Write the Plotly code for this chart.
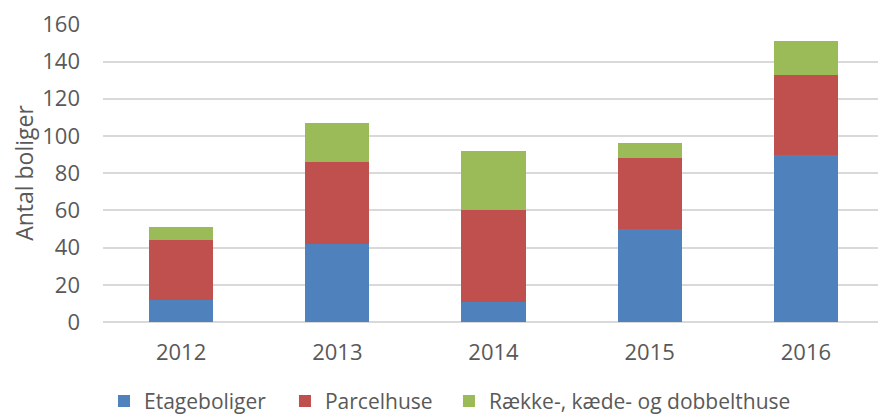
import plotly.graph_objects as go

years = ["2012", "2013", "2014", "2015", "2016"]
etage = [12, 42, 11, 50, 90]
parcel = [32, 44, 49, 38, 43]
raekke = [7, 21, 32, 8, 18]

names = ["Etageboliger", "Parcelhuse", "Række-, kæde- og dobbelthuse"]
colors = ["#4F81BD", "#C0504D", "#9BBB59"]
legend_ids = ["legend", "legend2", "legend3"]
legend_x = [0.0013, 0.233, 0.443]

fig = go.Figure()
for name, vals, col, lid in zip(names, [etage, parcel, raekke], colors, legend_ids):
    fig.add_trace(go.Bar(x=years, y=vals, name=name, legend=lid,
                         marker=dict(color=col, line=dict(width=0))))

font_family = "Open Sans, Liberation Sans, sans-serif"
legend_common = dict(orientation="h", xanchor="left", yref="container", y=0.036,
                     yanchor="middle", font=dict(size=21, color="#595959"),
                     itemwidth=30, bgcolor="rgba(0,0,0,0)")

fig.update_layout(
    barmode="stack",
    bargap=0.59,
    width=878, height=408,
    margin=dict(l=95, r=2, t=16, b=94),
    plot_bgcolor="white", paper_bgcolor="white",
    font=dict(family=font_family, color="#595959", size=22),
    showlegend=True,
    xaxis=dict(showline=False, ticks="", tickfont=dict(size=22), automargin=False,
               ticklabelstandoff=15),
    yaxis=dict(range=[0, 160.2], tick0=0, dtick=20, showgrid=True, gridcolor="#D9D9D9", gridwidth=2,
               zeroline=True, zerolinecolor="#D9D9D9", zerolinewidth=2, automargin=False,
               title=dict(text="Antal boliger", font=dict(size=23), standoff=6),
               tickfont=dict(size=22), ticks="", ticklabelstandoff=22),
)
for lid, lx in zip(legend_ids, legend_x):
    fig.update_layout({lid: dict(x=lx, **legend_common)})

fig.write_html("out.html")
